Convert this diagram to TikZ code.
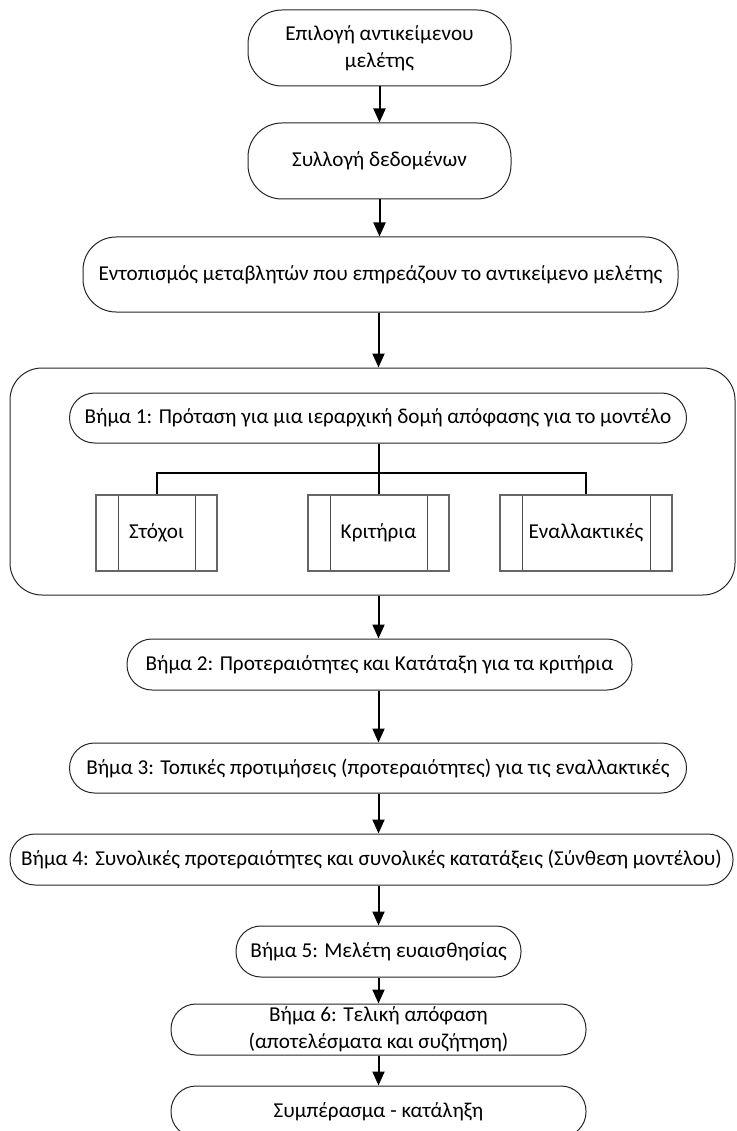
\documentclass[tikz,border=0pt]{standalone}
\usepackage{fontspec}
\setmainfont{Carlito}
\usetikzlibrary{arrows.meta}
\begin{document}
\begin{tikzpicture}[x=1pt,y=-1pt,
  term/.style={draw=black!85, line width=1pt, fill=white, inner sep=0pt,
    align=center, font=\fontsize{21.2}{27}\selectfont},
  proc/.style={draw=black!60, line width=1.1pt, fill=white, inner sep=0pt,
    minimum height=76pt, font=\fontsize{21.2}{27}\selectfont,
    path picture={
      \draw[black!70, line width=1pt]
        ([xshift=22pt]path picture bounding box.north west) --
        ([xshift=22pt]path picture bounding box.south west)
        ([xshift=-22pt]path picture bounding box.north east) --
        ([xshift=-22pt]path picture bounding box.south east);}},
  flow/.style={line width=2pt, -{Triangle[width=12pt,length=14pt]}},
  bus/.style={line width=2pt}]

\useasboundingbox (0,0) rectangle (736,1131);

% top of the chart
\node[term, rounded corners=34pt, minimum width=263pt, minimum height=76pt]
  (n1) at (379.5,48) {Επιλογή αντικείμενου\\μελέτης};
\node[term, rounded corners=34pt, minimum width=263pt, minimum height=76pt]
  (n2) at (379.5,161) {Συλλογή δεδομένων};
\node[term, rounded corners=33pt, minimum width=595pt, minimum height=75pt]
  (n3) at (380.5,274.5) {Εντοπισμός μεταβλητών που επηρεάζουν το αντικείμενο μελέτης};

% step 1 frame with its hierarchy
\node[draw=black!85, line width=1pt, rounded corners=32pt, inner sep=0pt,
  minimum width=725pt, minimum height=227pt] (frame) at (372.5,481.5) {};
\node[term, rounded corners=25pt, minimum width=617pt, minimum height=50pt]
  (s1) at (378,418) {Βήμα 1: Πρόταση για μια ιεραρχική δομή απόφασης για το μοντέλο};
\node[proc, minimum width=121pt] (goals) at (156.5,533) {Στόχοι};
\node[proc, minimum width=141pt] (crit) at (378.5,533) {Κριτήρια};
\node[proc, minimum width=172pt] (alts) at (586,533) {Εναλλακτικές};
\coordinate (split) at (378.5,473);
\draw[bus] (s1.south -| split) -- (split);
\draw[bus] (goals.north) -- (goals.north |- split) -- (alts.north |- split) -- (alts.north);
\draw[bus] (split) -- (crit.north);

% remaining steps
\node[term, rounded corners=25pt, minimum width=505pt, minimum height=51pt]
  (s2) at (379.5,664.5) {Βήμα 2: Προτεραιότητες και Κατάταξη για τα κριτήρια};
\node[term, rounded corners=25pt, minimum width=617pt, minimum height=50pt]
  (s3) at (378,768) {Βήμα 3: Τοπικές προτιμήσεις (προτεραιότητες) για τις εναλλακτικές};
\node[term, rounded corners=25pt, minimum width=723pt, minimum height=51pt]
  (s4) at (371.5,859.5) {Βήμα 4: Συνολικές προτεραιότητες και συνολικές κατατάξεις (Σύνθεση μοντέλου)};
\node[term, rounded corners=25pt, minimum width=285pt, minimum height=51pt]
  (s5) at (378.5,951.5) {Βήμα 5: Μελέτη ευαισθησίας};
\node[term, rounded corners=25pt, minimum width=415pt, minimum height=51pt]
  (s6) at (378.5,1029.5) {Βήμα 6: Τελική απόφαση\\(αποτελέσματα και συζήτηση)};
\node[term, rounded corners=25pt, minimum width=415pt, minimum height=51pt]
  (end) at (378.5,1111.5) {Συμπέρασμα - κατάληξη};

% connectors
\draw[flow] (n1.south) -- (n2.north);
\draw[flow] (n2.south) -- (n2.south |- n3.north);
\draw[flow] (n3.south -| split) -- (split |- frame.north);
\draw[flow] (split |- frame.south) -- (split |- s2.north);
\draw[flow] (s2.south -| split) -- (split |- s3.north);
\draw[flow] (s3.south -| split) -- (split |- s4.north);
\draw[flow] (split |- s4.south) -- (split |- s5.north);
\draw[flow] (split |- s5.south) -- (split |- s6.north);
\draw[flow] (split |- s6.south) -- (split |- end.north);
\end{tikzpicture}
\end{document}
